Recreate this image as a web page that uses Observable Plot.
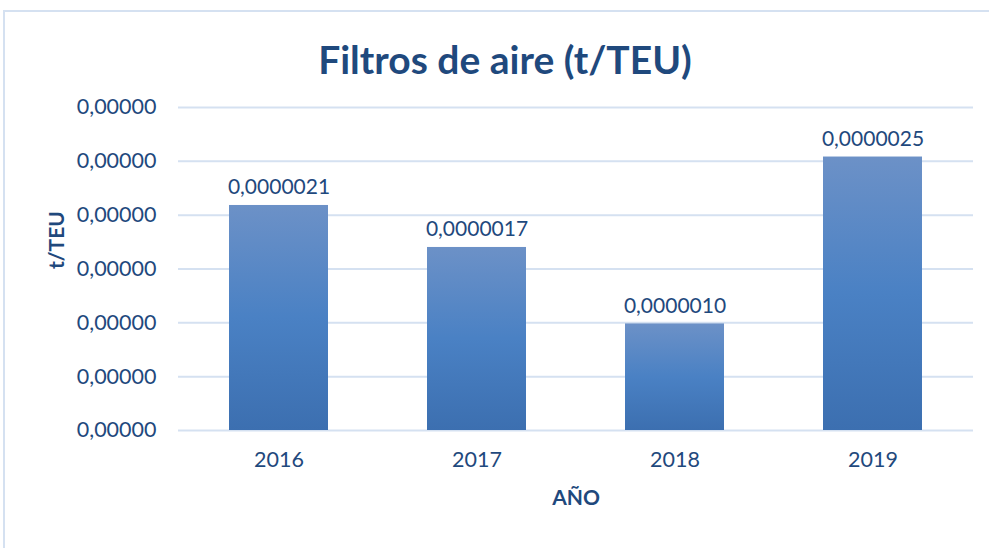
<!DOCTYPE html>
<html>
<head>
<meta charset="utf-8">
<script src="https://cdn.jsdelivr.net/npm/d3@7"></script>
<script src="https://cdn.jsdelivr.net/npm/@observablehq/plot@0.6"></script>
<style>
  html, body { margin: 0; padding: 0; background: #fff; }
  #wrap { position: relative; width: 989px; height: 548px; overflow: hidden; }
  #frame { position: absolute; left: 3px; top: 10px; width: 1100px; height: 600px;
           border-left: 2px solid #d5e1f1; border-top: 2px solid #d5e1f1; box-sizing: border-box; }
  #title { position: absolute; left: 0; top: 35px; width: 1010px; text-align: center;
           font-family: Lato, "Open Sans", sans-serif; font-weight: bold; font-size: 39px; line-height: 48px; color: #1f497d; }
  #chart { position: absolute; left: 0; top: 0; }
</style>
</head>
<body>
<div id="wrap">
  <div id="frame"></div>
  <div id="chart"></div>
  <div id="title">Filtros de aire (t/TEU)</div>
</div>
<script>
const years = ["2016", "2017", "2018", "2019"];
const values = [0.00000209, 0.00000170, 0.00000099, 0.00000254];
const yTicks = [0, 0.0000005, 0.000001, 0.0000015, 0.000002, 0.0000025, 0.000003];

const data = years.map((y, i) => ({year: y, value: values[i]}));
const txt = "#1f497d";
const font = 'Lato, "Open Sans", sans-serif';

const gradient = () => {
  const defs = d3.create("svg:defs");
  const g = defs.append("linearGradient").attr("id", "barGrad")
    .attr("x1", 0).attr("y1", 0).attr("x2", 0).attr("y2", 1);
  g.append("stop").attr("offset", "0%").attr("stop-color", "#6c91c7");
  g.append("stop").attr("offset", "50%").attr("stop-color", "#4a81c4");
  g.append("stop").attr("offset", "100%").attr("stop-color", "#3c6fb0");
  return defs.node();
};

const chart = Plot.plot({
  width: 989,
  height: 548,
  marginLeft: 178,
  marginRight: 16,
  marginTop: 107,
  marginBottom: 118,
  style: {fontFamily: font, color: txt, background: "transparent", overflow: "visible"},
  x: {domain: years, paddingInner: 0.5, paddingOuter: 0.25, label: null},
  y: {domain: [0, 0.000003], label: null},
  marks: [
    gradient,
    Plot.gridY(yTicks, {stroke: "#d5e1f1", strokeOpacity: 1, strokeWidth: 2}),
    Plot.barY(data, {x: "year", y: "value", fill: "url(#barGrad)"}),
    Plot.text(data, {x: "year", y: "value", text: d => d.value.toFixed(7).replace(".", ","),
      dy: -18, fontSize: 21, fill: txt}),
    Plot.axisY(yTicks, {tickSize: 0, tickPadding: 22, fontSize: 21.5, fill: txt,
      tickFormat: d => d.toFixed(5).replace(".", ","), label: null}),
    Plot.axisX({tickSize: 0, tickPadding: 21, fontSize: 21.5, fill: txt, label: null}),
    Plot.text(["AÑO"], {frameAnchor: "bottom", dy: 74, fontSize: 21, fontWeight: "bold", fill: txt}),
    Plot.text(["t/TEU"], {frameAnchor: "left", dx: -121, rotate: -90, fontSize: 21, fontWeight: "bold", fill: txt})
  ]
});
document.getElementById("chart").appendChild(chart);
</script>
</body>
</html>
